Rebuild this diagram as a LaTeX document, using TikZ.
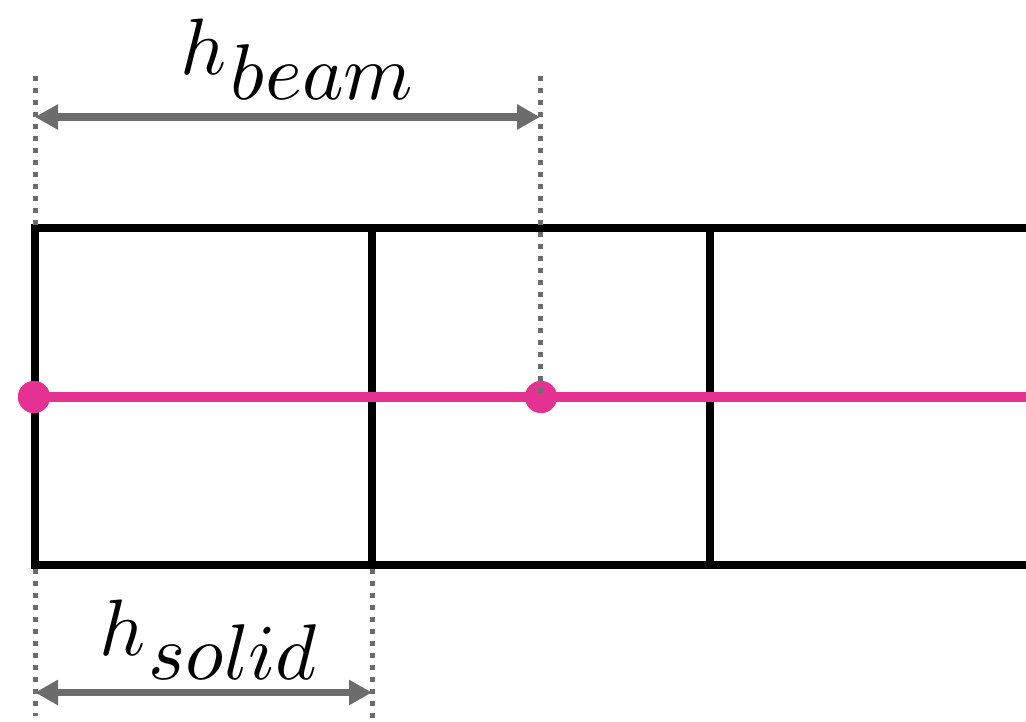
\documentclass[tikz,border=0pt]{standalone}
\usepackage{unicode-math}
\setmathfont{Latin Modern Math}
\usetikzlibrary{arrows.meta}
\definecolor{pinkc}{RGB}{229,49,145}
\definecolor{guidegray}{RGB}{108,108,108}
\tikzset{
  frame/.style={line width=7.5pt, draw=black, line join=miter},
  beamline/.style={line width=10pt, draw=pinkc},
  pinkdot/.style={circle, fill=pinkc, minimum size=32pt, inner sep=0pt},
  guide/.style={draw=guidegray, line width=5pt, dash pattern=on 5pt off 7pt},
  dimarrow/.style={draw=guidegray, line width=7.5pt, {Triangle[length=23pt,width=24pt]}-{Triangle[length=23pt,width=24pt]}},
  lbl/.style={inner sep=0pt, anchor=base west}
}
\begin{document}
\begin{tikzpicture}[x=1pt,y=-1pt]
\useasboundingbox (0,0) rectangle (1026,721);
% frame corners
\coordinate (tr) at (1032,228);
\coordinate (tl) at (35,228);
\coordinate (bl) at (35,565);
\coordinate (br) at (1032,565);
\coordinate (t1) at (372,228);
\coordinate (b1) at (372,565);
\coordinate (t2) at (710,228);
\coordinate (b2) at (710,565);
\draw[frame] (tr) -- (tl) -- (bl) -- (br);
\draw[frame] (t1) -- (b1);
\draw[frame] (t2) -- (b2);
% beam line
\node[pinkdot] (d1) at (34,397) {};
\node[pinkdot] (d2) at (541,397) {};
\coordinate (bend) at (1032,397);
\draw[beamline] (d1.center) -- (bend);
\node[pinkdot] at (d1) {};
\node[pinkdot] at (d2) {};
% guides
\coordinate (g1a) at (35,76);
\coordinate (g1b) at (35,226);
\coordinate (g2a) at (35,569);
\coordinate (g2b) at (35,716);
\coordinate (g3a) at (540,76);
\coordinate (g3b) at (540,394);
\coordinate (g4a) at (372,569);
\coordinate (g4b) at (372,722);
\draw[guide] (g1a) -- (g1b);
\draw[guide] (g2a) -- (g2b);
\draw[guide] (g3a) -- (g3b);
\draw[guide] (g4a) -- (g4b);
% dimension arrows
\coordinate (aL) at (35,117);
\coordinate (aR) at (540,117);
\coordinate (sL) at (35,692.5);
\coordinate (sR) at (372,692.5);
\draw[dimarrow] (aL) -- (aR);
\draw[dimarrow] (sL) -- (sR);
% labels
\node[lbl] (hbeam) at (180,74) {\fontsize{80}{80}\selectfont$h$\kern4pt\raisebox{-25pt}{\fontsize{79}{79}\selectfont$beam$}};
\node[lbl] (hsolid) at (99,655) {\fontsize{80}{80}\selectfont$h$\kern3pt\raisebox{-24pt}{\fontsize{79}{79}\selectfont$solid$}};
\end{tikzpicture}
\end{document}
